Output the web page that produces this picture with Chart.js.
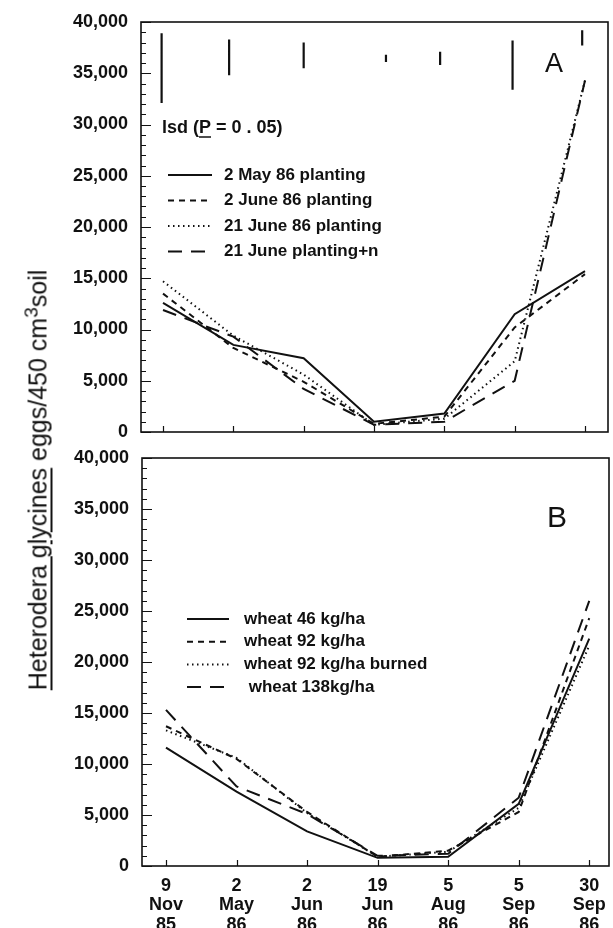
<!DOCTYPE html>
<html>
<head>
<meta charset="utf-8">
<script src="https://cdn.jsdelivr.net/npm/chart.js@4.4.0/dist/chart.umd.min.js"></script>
<style>
  html, body { margin: 0; padding: 0; background: #fff; overflow: hidden; }
  body { width: 613px; height: 928px; position: relative; }
  .panel { position: absolute; left: 0; }
  #panelA { top: 0; }
  #panelB { top: 445px; }
  #yTitle {
    position: absolute; left: 38px; top: 480px;
    transform: translate(-50%, -50%) rotate(-90deg);
    font: 25px "Liberation Sans", Arial, sans-serif;
    white-space: nowrap; color: #111;
  }
  #yTitle u { text-decoration-thickness: 2px; text-underline-offset: 4px; }
  #yTitle .sup { font-size: 19px; position: relative; top: -9px; }
</style>
</head>
<body>
<div class="panel" id="panelA"><canvas id="chartA" width="613" height="445"></canvas></div>
<div class="panel" id="panelB"><canvas id="chartB" width="613" height="500"></canvas></div>
<div id="yTitle"><u>Heterodera glycines</u> eggs/450 cm<span class="sup">3</span>soil</div>

<script>
// --- DATA ---
const dateLabels = [
  ['9', 'Nov', '85'], ['2', 'May', '86'], ['2', 'Jun', '86'], ['19', 'Jun', '86'],
  ['5', 'Aug', '86'], ['5', 'Sep', '86'], ['30', 'Sep', '86']
];

// panel A: planting dates
const namesA = ['2 May 86 planting', '2 June 86 planting', '21 June 86 planting', '21 June planting+n'];
const may2Planting    = [12600, 8500, 7200, 1000, 1800, 11500, 15700];
const june2Planting   = [13500, 8200, 4900,  800, 1500, 10200, 15400];
const june21Planting  = [14700, 9400, 5600,  700, 1300,  6900, 34300];
const june21PlantingN = [11900, 9300, 4200,  700, 1000,  5000, 34300];

// lsd (P = 0.05) bars of panel A
const lsdDates = [-0.02, 0.94, 2, 3.17, 3.94, 4.97, 5.96];
const lsdLow   = [32100, 34800, 35500, 36100, 35800, 33400, 37700];
const lsdHigh  = [38900, 38300, 38000, 36800, 37100, 38200, 39200];

// panel B: wheat residue
const namesB = ['wheat 46 kg/ha', 'wheat 92 kg/ha', 'wheat 92 kg/ha burned', ' wheat 138kg/ha'];
const wheat46       = [11600,  7300, 3400,  800,  900, 6100, 22300];
const wheat92       = [13700, 10500, 5300,  900, 1500, 5300, 24300];
const wheat92Burned = [13300, 10600, 5200,  900, 1400, 5700, 21600];
const wheat138      = [15300,  7800, 5100, 1000, 1200, 6700, 26000];

const yTicks = { min: 0, max: 40000, step: 1000, labelEvery: 5000 };

// --- STYLES ---
const ink = '#111';
const dashStyles = [[], [6, 5], [1.5, 3.5], [14, 9]];
Chart.defaults.font.family = '"Liberation Sans", Arial, sans-serif';
Chart.defaults.color = ink;

function seriesDatasets(names, valueLists) {
  return names.map((name, k) => ({
    label: name,
    data: valueLists[k].map((v, i) => ({ x: i, y: v })),
    borderColor: ink,
    borderWidth: 2,
    borderDash: dashStyles[k],
    pointRadius: 0,
    tension: 0,
    fill: false
  }));
}

function lsdDataset() {
  const pts = [];
  lsdDates.forEach((x, i) => {
    pts.push({ x: x, y: lsdLow[i] }, { x: x, y: lsdHigh[i] }, { x: x, y: null });
  });
  return {
    label: 'lsd', isLsd: true, data: pts,
    borderColor: ink, borderWidth: 2.2, pointRadius: 0, spanGaps: false
  };
}

// frame, inward ticks, panel letter, legend and notes
const panelDecor = {
  id: 'panelDecor',
  afterDraw(chart, args, opts) {
    const { ctx, chartArea: a, scales: { x, y } } = chart;
    ctx.save();
    ctx.strokeStyle = ink;
    ctx.lineWidth = 1.6;
    ctx.setLineDash([]);
    ctx.strokeRect(a.left, a.top, a.right - a.left, a.bottom - a.top);

    ctx.lineWidth = 1.2;
    ctx.beginPath();
    y.ticks.forEach(t => {
      const py = Math.round(y.getPixelForValue(t.value)) + 0.5;
      const len = t.value % yTicks.labelEvery === 0 ? 10 : 5;
      ctx.moveTo(a.left, py);
      ctx.lineTo(a.left + len, py);
    });
    x.ticks.forEach(t => {
      const px = Math.round(x.getPixelForValue(t.value)) + 0.5;
      ctx.moveTo(px, a.bottom);
      ctx.lineTo(px, a.bottom - 6);
    });
    ctx.stroke();

    ctx.fillStyle = ink;
    ctx.textAlign = 'center';
    ctx.textBaseline = 'alphabetic';
    ctx.font = opts.letterFont;
    ctx.fillText(opts.letter, opts.letterX, opts.letterY);

    const lg = opts.legend;
    ctx.font = lg.font;
    ctx.textAlign = 'left';
    ctx.textBaseline = 'middle';
    chart.data.datasets.filter(ds => !ds.isLsd).forEach((ds, i) => {
      const ly = lg.top + i * lg.step;
      ctx.lineWidth = ds.borderWidth;
      ctx.setLineDash(ds.borderDash);
      ctx.beginPath();
      ctx.moveTo(lg.x, ly);
      ctx.lineTo(lg.x + lg.lineLen, ly);
      ctx.stroke();
      ctx.fillText(ds.label, lg.textX, ly);
    });
    ctx.setLineDash([]);

    if (opts.note) {
      const n = opts.note;
      ctx.font = n.font;
      let cx = n.x;
      n.parts.forEach(p => {
        ctx.fillText(p.text, cx, n.y);
        const w = ctx.measureText(p.text).width;
        if (p.underline) {
          ctx.lineWidth = 1.5;
          ctx.beginPath();
          ctx.moveTo(cx, n.y + 9);
          ctx.lineTo(cx + w, n.y + 9);
          ctx.stroke();
        }
        cx += w;
      });
    }
    ctx.restore();
  }
};

function makeChart(id, datasets, cfg) {
  return new Chart(document.getElementById(id), {
    type: 'line',
    data: { datasets: datasets },
    options: {
      responsive: false,
      animation: false,
      layout: { padding: cfg.padding },
      plugins: {
        legend: { display: false },
        tooltip: { enabled: false },
        panelDecor: cfg.decor
      },
      scales: {
        x: {
          type: 'linear',
          min: cfg.xMin, max: cfg.xMax,
          grid: { display: false, drawTicks: false },
          border: { display: false },
          afterBuildTicks: s => { s.ticks = dateLabels.map((d, i) => ({ value: i })); },
          afterFit: s => { s.height = cfg.xHeight; s.paddingLeft = 0; s.paddingRight = 0; },
          ticks: {
            display: cfg.showDates,
            padding: 10,
            maxRotation: 0,
            autoSkip: false,
            font: { size: 18, weight: 'bold', lineHeight: 1.08 },
            callback: v => dateLabels[v]
          }
        },
        y: {
          min: yTicks.min, max: yTicks.max,
          grid: { display: false, drawTicks: false },
          border: { display: false },
          afterFit: s => { s.width = cfg.yWidth; s.paddingTop = 0; s.paddingBottom = 0; },
          ticks: {
            stepSize: yTicks.step,
            maxTicksLimit: 100,
            autoSkip: false,
            padding: 13,
            font: { size: 18, weight: 'bold' },
            callback: v => v % yTicks.labelEvery === 0 ? v.toLocaleString('en-US') : ''
          }
        }
      }
    },
    plugins: [panelDecor]
  });
}

makeChart('chartA',
  seriesDatasets(namesA, [may2Planting, june2Planting, june21Planting, june21PlantingN]).concat([lsdDataset()]),
  {
    padding: { top: 22, right: 5, left: 0, bottom: 0 },
    xMin: -0.313, xMax: 6.327, xHeight: 13, yWidth: 141, showDates: false,
    decor: {
      letter: 'A', letterFont: '27px "Liberation Sans", Arial, sans-serif', letterX: 554, letterY: 72,
      legend: { font: 'bold 17px "Liberation Sans", Arial, sans-serif', x: 168, lineLen: 44, textX: 224, top: 175, step: 25.5 },
      note: {
        font: 'bold 18px "Liberation Sans", Arial, sans-serif', x: 162, y: 128,
        parts: [{ text: 'lsd (' }, { text: 'P', underline: true }, { text: ' = 0 . 05)' }]
      }
    }
  });

makeChart('chartB',
  seriesDatasets(namesB, [wheat46, wheat92, wheat92Burned, wheat138]),
  {
    padding: { top: 13, right: 4, left: 0, bottom: 0 },
    xMin: -0.34, xMax: 6.28, xHeight: 79, yWidth: 142, showDates: true,
    decor: {
      letter: 'B', letterFont: '30px "Liberation Sans", Arial, sans-serif', letterX: 557, letterY: 82,
      legend: { font: 'bold 17px "Liberation Sans", Arial, sans-serif', x: 187, lineLen: 42, textX: 244, top: 174, step: 22.7 }
    }
  });
</script>
</body>
</html>
